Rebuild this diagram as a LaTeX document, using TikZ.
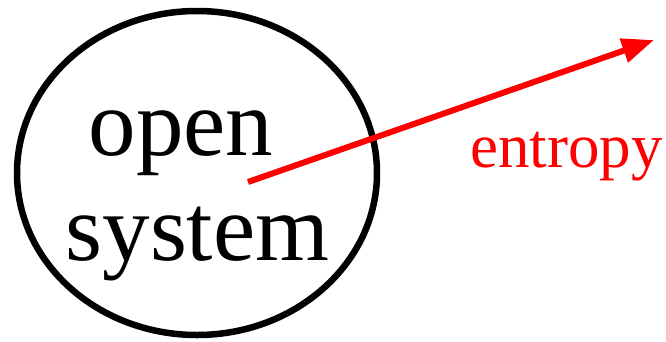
\documentclass[tikz,border=0pt]{standalone}
\usepackage{fontspec}
\setmainfont{Liberation Serif}
\usetikzlibrary{shapes.geometric,arrows.meta}
\begin{document}
\begin{tikzpicture}[x=1pt,y=-1pt,
  bigtext/.style={font=\fontsize{95}{100}\selectfont, anchor=base, inner sep=0pt},
  redtext/.style={font=\fontsize{63}{70}\selectfont, anchor=base, inner sep=0pt, text=red},
  boundary/.style={draw=black, line width=6.5pt, ellipse, minimum width=360pt, minimum height=324pt, inner sep=0pt},
  flow/.style={draw=red, line width=6pt, -{Triangle[length=32pt,width=24pt]}}]
\useasboundingbox (0,0) rectangle (666,341);
\node[boundary] (sys) at (197,173) {};
\node[bigtext] (open) at (181,155) {open};
\node[bigtext] (system) at (197.5,260) {system};
\coordinate (start) at (248,182);
\coordinate (tip) at (654,40);
\draw[flow] (start) -- (tip);
\node[redtext] (entropy) at (566.5,167) {entropy};
\end{tikzpicture}
\end{document}
